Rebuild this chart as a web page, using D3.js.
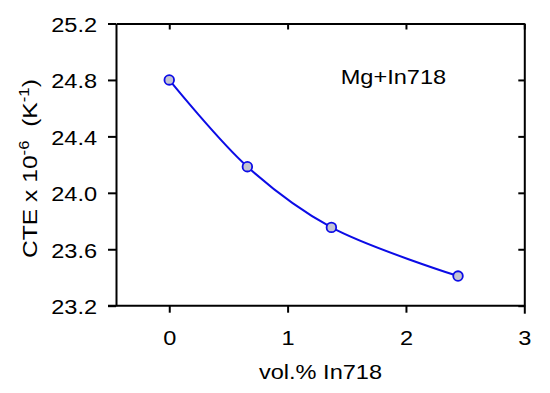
<!DOCTYPE html>
<html><head><meta charset="utf-8">
<script src="https://cdn.jsdelivr.net/npm/d3@7"></script>
<style>
body{margin:0;background:#fff;}
text{font-family:"Liberation Sans",Arial,sans-serif;}
</style></head>
<body><svg id="c" width="550" height="393"></svg>
<script>
const volPct = [0, 0.66, 1.37, 2.44];
const cte = [24.80, 24.185, 23.755, 23.41];
const xTicks = [0, 1, 2, 3];
const yTicks = [23.2, 23.6, 24.0, 24.4, 24.8, 25.2];
const seriesLabel = "Mg+In718";

const svg = d3.select("#c");
const m = {l:116, r:25.7, t:23.5, b:87.3};
const W = 550 - m.l - m.r, H = 393 - m.t - m.b;
const g = svg.append("g").attr("transform", `translate(${m.l},${m.t})`);
const x = d3.scaleLinear().domain([-0.45, 3]).range([0, W]);
const y = d3.scaleLinear().domain([23.2, 25.2]).range([H, 0]);
const SX = 1.15;

function styleAxis(a){
  a.select(".domain").attr("stroke","#000").attr("stroke-width",2);
  a.selectAll(".tick line").attr("stroke","#000").attr("stroke-width",2);
  a.selectAll("text").attr("fill","#000").attr("font-size",20.5);
}
const xa = g.append("g").attr("transform",`translate(0,${H})`)
  .call(d3.axisBottom(x).tickValues(xTicks).tickFormat(d3.format("d")).tickSize(7).tickSizeOuter(0));
styleAxis(xa);
xa.selectAll("text").attr("y",39).attr("dy",0).attr("transform",`scale(${SX},1)`);
const ya = g.append("g")
  .call(d3.axisLeft(y).tickValues(yTicks).tickFormat(d3.format(".1f")).tickSize(8).tickSizeOuter(0));
styleAxis(ya);
ya.selectAll("text").attr("x",-16.5).attr("dy","0.38em").attr("transform",`scale(${SX},1)`);
xa.select(".domain").attr("d",`M-8,0H${W}`);
const ta = g.append("g").call(d3.axisTop(x).tickValues(xTicks).tickSize(-6).tickSizeOuter(0).tickFormat(""));
styleAxis(ta);
const ra = g.append("g").attr("transform",`translate(${W},0)`)
  .call(d3.axisRight(y).tickValues(yTicks).tickSize(-6).tickSizeOuter(0).tickFormat(""));
styleAxis(ra);
xa.selectAll(".tick").filter(d=>d===3).select("line").attr("y2",8);

const pts = volPct.map((v,i)=>[v,cte[i]]);
g.append("path").datum(pts)
  .attr("fill","none").attr("stroke","#0c0ce6").attr("stroke-width",2)
  .attr("d", d3.line().x(d=>x(d[0])).y(d=>y(d[1])).curve(d3.curveCatmullRom.alpha(0.5)));
g.selectAll("circle.pt").data(pts).enter().append("circle")
  .attr("cx",d=>x(d[0])).attr("cy",d=>y(d[1])).attr("r",4.8)
  .attr("fill","#c4c4d2").attr("stroke","#0c0ce6").attr("stroke-width",1.8);

g.append("text").attr("transform",`translate(${340.7-m.l},${84.3-m.t}) scale(${SX},1)`)
  .attr("font-size",20.5).attr("fill","#000").text(seriesLabel);

svg.append("text").attr("transform",`translate(320.5,379) scale(${SX},1)`)
  .attr("text-anchor","middle").attr("font-size",20.5).attr("fill","#000").text("vol.% In718");

const yl = svg.append("text").attr("transform",`translate(36.5,168.5) rotate(-90) scale(1.2,1)`)
  .attr("text-anchor","middle").attr("font-size",20.5).attr("fill","#000").attr("xml:space","preserve");
yl.append("tspan").text("CTE x 10");
yl.append("tspan").attr("font-size",14).attr("dy",-8).text("-6");
yl.append("tspan").attr("dy",8).text("  (K");
yl.append("tspan").attr("font-size",14).attr("dy",-8).text("-1");
yl.append("tspan").attr("dy",8).text(")");
</script></body></html>
